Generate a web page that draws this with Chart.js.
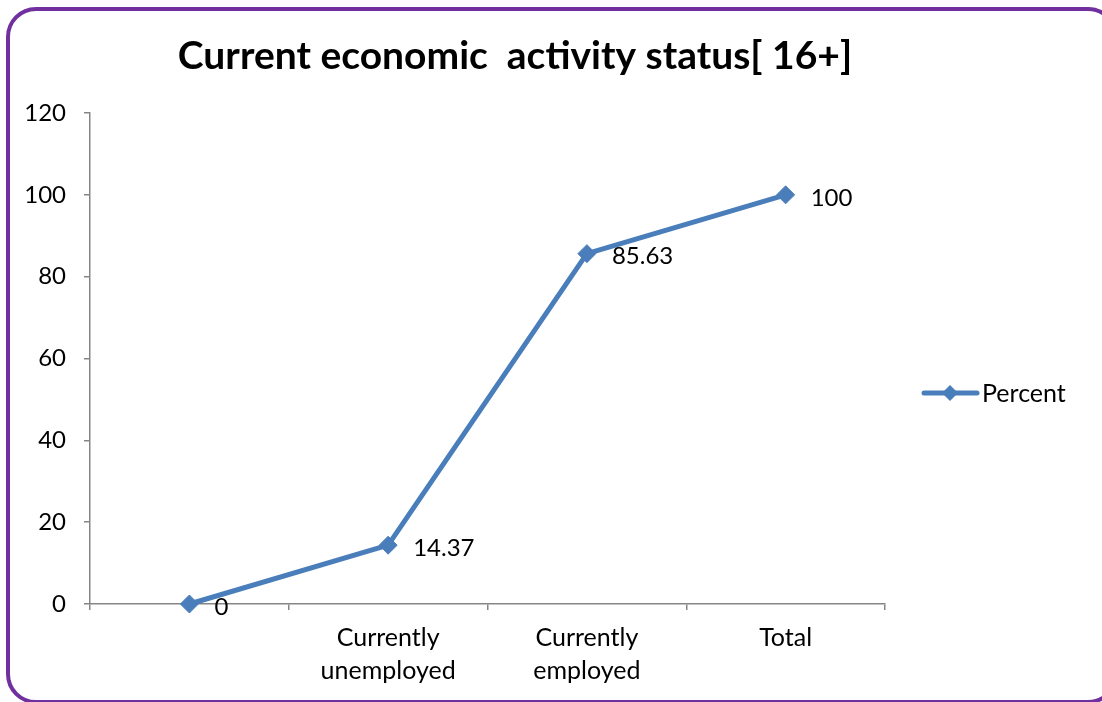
<!DOCTYPE html>
<html>
<head>
<meta charset="utf-8">
<title>Current economic activity status</title>
<script src="https://cdn.jsdelivr.net/npm/chart.js@4/dist/chart.umd.min.js"></script>
<style>
    html, body { margin: 0; padding: 0; background: #fff; }
    #wrap { position: relative; width: 1102px; height: 702px; overflow: hidden; }
    /* rounded purple frame, runs past the right and bottom edge */
    #frame {
        position: absolute; left: 6px; top: 7px;
        width: 1104px; height: 689px;
        border: 4px solid #7030A0; border-radius: 30px;
    }
    #chart { position: absolute; left: 0; top: 0; }
</style>
</head>
<body>
<div id="wrap">
    <div id="frame"></div>
    <canvas id="chart" width="1102" height="702"></canvas>
</div>
<script>
// data
const chartTitle = 'Current economic  activity status[ 16+]';
const categories = ['', ['Currently', 'unemployed'], ['Currently', 'employed'], 'Total'];
const seriesName = 'Percent';
const percentValues = [0, 14.37, 85.63, 100];
const yMin = 0, yMax = 120, yStep = 20;

const LINE_BLUE = '#4A7EBB';
const AXIS_GREY = '#868686';
const FONT = 'Lato, "Open Sans", sans-serif';

// title drawn over the plot area, a bit left of the canvas centre
const titlePlugin = {
    id: 'frameTitle',
    afterDraw(chart) {
        const ctx = chart.ctx;
        ctx.save();
        ctx.font = 'bold 39px ' + FONT;
        ctx.fillStyle = '#000';
        ctx.textAlign = 'center';
        ctx.textBaseline = 'middle';
        ctx.fillText(chartTitle, 515, 56);
        ctx.restore();
    }
};

// value next to every point
const valueLabels = {
    id: 'valueLabels',
    afterDatasetsDraw(chart) {
        const ctx = chart.ctx;
        const ds = chart.data.datasets[0];
        const meta = chart.getDatasetMeta(0);
        ctx.save();
        ctx.font = '24px ' + FONT;
        ctx.fillStyle = '#000';
        ctx.textAlign = 'left';
        ctx.textBaseline = 'middle';
        meta.data.forEach((pt, i) => {
            ctx.fillText(String(ds.data[i]), pt.x + 25, pt.y + 3);
        });
        ctx.restore();
    }
};

// legend on the right: line with a diamond, then the series name
const sideLegend = {
    id: 'sideLegend',
    afterDraw(chart) {
        const ctx = chart.ctx;
        const ds = chart.data.datasets[0];
        const y = 393;
        ctx.save();
        ctx.strokeStyle = ds.borderColor;
        ctx.lineWidth = 5;
        ctx.lineCap = 'round';
        ctx.beginPath();
        ctx.moveTo(924, y);
        ctx.lineTo(977, y);
        ctx.stroke();
        ctx.fillStyle = ds.pointBackgroundColor;
        ctx.beginPath();
        ctx.moveTo(950 - 8, y);
        ctx.lineTo(950, y - 8);
        ctx.lineTo(950 + 8, y);
        ctx.lineTo(950, y + 8);
        ctx.closePath();
        ctx.fill();
        ctx.font = '25px ' + FONT;
        ctx.fillStyle = '#000';
        ctx.textAlign = 'left';
        ctx.textBaseline = 'middle';
        ctx.fillText(ds.label, 982, y + 1);
        ctx.restore();
    }
};

new Chart(document.getElementById('chart'), {
    type: 'line',
    data: {
        labels: categories,
        datasets: [{
            label: seriesName,
            data: percentValues,
            borderColor: LINE_BLUE,
            borderWidth: 5,
            pointStyle: 'rectRot',
            pointRadius: 9,
            pointBorderWidth: 1,
            pointBackgroundColor: LINE_BLUE,
            pointBorderColor: LINE_BLUE,
            tension: 0,
            clip: false
        }]
    },
    options: {
        responsive: false,
        animation: false,
        layout: { padding: { top: 113, right: 217, bottom: 0, left: 0 } },
        plugins: {
            legend: { display: false },
            title: { display: false },
            tooltip: { enabled: false }
        },
        scales: {
            x: {
                type: 'category',
                offset: true,
                grid: { offset: true, drawOnChartArea: false, drawTicks: true, tickLength: 6, color: AXIS_GREY, lineWidth: 1.5 },
                border: { color: AXIS_GREY, width: 1.5 },
                ticks: {
                    color: '#000',
                    font: { family: FONT, size: 25, lineHeight: 1.32 },
                    padding: 11,
                    maxRotation: 0,
                    autoSkip: false
                },
                afterFit(scale) { scale.height = 98; }
            },
            y: {
                min: yMin,
                max: yMax,
                grid: { drawOnChartArea: false, drawTicks: true, tickLength: 6, color: AXIS_GREY, lineWidth: 1.5 },
                border: { color: AXIS_GREY, width: 1.5 },
                ticks: {
                    stepSize: yStep,
                    color: '#000',
                    font: { family: FONT, size: 24 },
                    padding: 18
                },
                afterFit(scale) { scale.width = 90; }
            }
        }
    },
    plugins: [titlePlugin, valueLabels, sideLegend]
});
</script>
</body>
</html>
